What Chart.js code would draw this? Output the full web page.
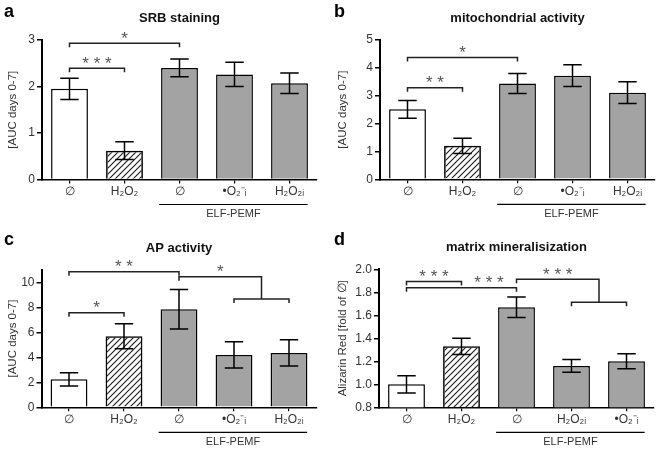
<!DOCTYPE html>
<html>
<head>
<meta charset="utf-8">
<script src="https://cdn.jsdelivr.net/npm/chart.js@4.4.1/dist/chart.umd.min.js"></script>
<style>
  body { margin: 0; background: #fff; }
  #wrap { position: relative; width: 660px; height: 450px; }
  .panel { position: absolute; width: 330px; height: 225px; }
</style>
</head>
<body>
<div id="wrap">
  <div class="panel" style="left:0;top:0"><canvas id="chartA"></canvas></div>
  <div class="panel" style="left:330px;top:0"><canvas id="chartB"></canvas></div>
  <div class="panel" style="left:0;top:225px"><canvas id="chartC"></canvas></div>
  <div class="panel" style="left:330px;top:225px"><canvas id="chartD"></canvas></div>
</div>
<script>
/* ---------- data ---------- */

const groupLabels  = ["∅", "H₂O₂", "∅", "•O₂⁻ᵢ", "H₂O₂ᵢ"];
const groupLabelsD = ["∅", "H₂O₂", "∅", "H₂O₂ᵢ", "•O₂⁻ᵢ"];

const srbMeans  = [1.95, 0.62, 2.40, 2.26, 2.07];
const srbErrors = [0.23, 0.19, 0.19, 0.26, 0.22];

const mitoMeans  = [2.51, 1.20, 3.44, 3.72, 3.11];
const mitoErrors = [0.32, 0.27, 0.36, 0.39, 0.39];

const apMeans  = [2.24, 5.68, 7.84, 4.19, 4.35];
const apErrors = [0.53, 1.00, 1.58, 1.05, 1.05];

const alizarinMeans  = [1.00, 1.33, 1.67, 1.16, 1.20];
const alizarinErrors = [0.075, 0.07, 0.09, 0.055, 0.065];

// significance brackets: category indices, height in axis units
const srbSig  = [{from: 0, to: 1, y: 2.39, text: "* * *"}, {from: 0, to: 2, y: 2.93, text: "*"}];
const mitoSig = [{from: 0, to: 1, y: 3.29, text: "* *"}, {from: 0, to: 2, y: 4.37, text: "*"}];
const apSig   = [{from: 0, to: 1, y: 7.57, text: "*"}, {from: 0, to: 2, y: 10.85, text: "* *"},
                 {from: 2, to: [3, 4], y: 10.45, low: 8.67, text: "*"}];
const alizSig = [{from: 0, to: 1, y: 1.893, text: "* * *"}, {from: 0, to: 2, y: 1.84, text: "* * *", textAt: 1.5},
                 {from: 2, to: [3, 4], y: 1.913, low: 1.713, text: "* * *"}];

/* ---------- defaults ---------- */

const FONT = "'Liberation Sans', Arial, sans-serif";
Chart.defaults.font.family = FONT;
Chart.defaults.font.size = 12;
Chart.defaults.color = "#333";
Chart.defaults.animation = false;
Chart.defaults.plugins.legend.display = false;
Chart.defaults.plugins.tooltip.enabled = false;

function makeHatch() {
  const c = document.createElement("canvas");
  c.width = 6; c.height = 6;
  const g = c.getContext("2d");
  g.strokeStyle = "#1a1a1a";
  g.lineWidth = 1.1;
  g.beginPath();
  g.moveTo(-1, 7); g.lineTo(7, -1);
  g.moveTo(-1, 1); g.lineTo(1, -1);
  g.moveTo(5, 7); g.lineTo(7, 5);
  g.stroke();
  return g.createPattern(c, "repeat");
}

const hatch = makeHatch();
const barFills = ["#ffffff", hatch, "#a3a3a3", "#a3a3a3", "#a3a3a3"];

/* ---------- plugins ---------- */

const errorBars = {
  id: "errorBars",
  afterDatasetsDraw(chart, args, opts) {
    const ctx = chart.ctx, y = chart.scales.y;
    const meta = chart.getDatasetMeta(0);
    const vals = chart.data.datasets[0].data;
    ctx.save();
    ctx.strokeStyle = "#000";
    ctx.lineWidth = 1.5;
    meta.data.forEach((bar, i) => {
      const top = y.getPixelForValue(vals[i] + opts.errors[i]);
      const bot = y.getPixelForValue(vals[i] - opts.errors[i]);
      const half = bar.width * 0.25;
      ctx.beginPath();
      ctx.moveTo(bar.x, top); ctx.lineTo(bar.x, bot);
      ctx.moveTo(bar.x - half, top); ctx.lineTo(bar.x + half, top);
      ctx.moveTo(bar.x - half, bot); ctx.lineTo(bar.x + half, bot);
      ctx.stroke();
    });
    ctx.restore();
  }
};

function stars(ctx, text, x, y) {
  ctx.fillStyle = "#555";
  ctx.font = "17px " + FONT;
  ctx.textAlign = "center";
  ctx.textBaseline = "alphabetic";
  ctx.fillText(text, x, y + 0.5);
}

const decor = {
  id: "decor",
  afterDraw(chart, args, o) {
    const ctx = chart.ctx, x = chart.scales.x, y = chart.scales.y;
    const area = chart.chartArea;
    const drop = 4;
    ctx.save();

    // panel letter and title
    ctx.fillStyle = "#000";
    ctx.font = "bold 18px " + FONT;
    ctx.textAlign = "left";
    ctx.textBaseline = "alphabetic";
    ctx.fillText(o.letter, 4, o.letterY);
    ctx.fillStyle = "#111";
    ctx.font = "bold 13px " + FONT;
    ctx.textAlign = "center";
    ctx.textBaseline = "middle";
    ctx.fillText(o.title, (area.left + area.right) / 2, o.titleY);

    // significance brackets
    ctx.strokeStyle = "#222";
    ctx.lineWidth = 1.5;
    o.brackets.forEach(b => {
      const x1 = x.getPixelForValue(b.from);
      const yy = y.getPixelForValue(b.y);
      if (Array.isArray(b.to)) {
        const a1 = x.getPixelForValue(b.to[0]);
        const a2 = x.getPixelForValue(b.to[1]);
        const mid = (a1 + a2) / 2;
        const yl = y.getPixelForValue(b.low);
        ctx.beginPath();
        ctx.moveTo(x1, yy + drop); ctx.lineTo(x1, yy); ctx.lineTo(mid, yy); ctx.lineTo(mid, yl);
        ctx.moveTo(a1, yl + drop); ctx.lineTo(a1, yl); ctx.lineTo(a2, yl); ctx.lineTo(a2, yl + drop);
        ctx.stroke();
        stars(ctx, b.text, (x1 + mid) / 2, yy);
      } else {
        const x2 = x.getPixelForValue(b.to);
        ctx.beginPath();
        ctx.moveTo(x1, yy + drop); ctx.lineTo(x1, yy); ctx.lineTo(x2, yy); ctx.lineTo(x2, yy + drop);
        ctx.stroke();
        const tx = b.textAt !== undefined ? x.getPixelForValue(b.textAt) : (x1 + x2) / 2;
        stars(ctx, b.text, tx, yy);
      }
    });

    // ELF-PEMF group line
    const gx1 = x.getPixelForValue(1.63), gx2 = x.getPixelForValue(4.33);
    const gy = area.bottom + 25;
    ctx.strokeStyle = "#000";
    ctx.lineWidth = 1.2;
    ctx.beginPath();
    ctx.moveTo(gx1, gy); ctx.lineTo(gx2, gy);
    ctx.stroke();
    ctx.fillStyle = "#333";
    ctx.font = "11px " + FONT;
    ctx.textAlign = "center";
    ctx.textBaseline = "middle";
    ctx.fillText("ELF-PEMF", (gx1 + gx2) / 2, area.bottom + 34.5);
    ctx.restore();
  }
};

/* ---------- panels ---------- */

function drawPanel(id, p) {
  return new Chart(document.getElementById(id), {
    type: "bar",
    data: {
      labels: p.labels,
      datasets: [{
        data: p.means,
        backgroundColor: barFills,
        borderColor: "#000",
        borderWidth: 1.5,
        barPercentage: 0.67,
        categoryPercentage: 1
      }]
    },
    options: {
      responsive: true,
      maintainAspectRatio: false,
      devicePixelRatio: 1,
      layout: { padding: { left: 0, top: p.box.top, right: 330 - p.box.right, bottom: 0 } },
      scales: {
        x: {
          grid: { display: true, drawOnChartArea: false, offset: false, tickLength: 4, color: "#000", lineWidth: 1.2 },
          border: { display: true, color: "#000", width: 1.5 },
          ticks: { padding: 1, font: { size: 12 }, color: "#333", maxRotation: 0 },
          afterFit(s) { s.height = 225 - p.box.bottom; s.paddingLeft = 0; s.paddingRight = 0; }
        },
        y: {
          min: p.yMin,
          max: p.yMax,
          grid: { display: true, drawOnChartArea: false, tickLength: 5, color: "#000", lineWidth: 1.5 },
          border: { display: true, color: "#000", width: 2 },
          ticks: {
            stepSize: p.yStep,
            includeBounds: false,
            padding: 2,
            font: { size: 12 },
            color: "#333",
            callback: v => p.decimals ? Number(v).toFixed(p.decimals) : v
          },
          title: { display: true, text: p.yTitle, color: "#333", font: { size: 11.5 }, padding: { top: 6, bottom: 0 } },
          afterFit(s) { s.width = p.box.left; s.paddingTop = 0; s.paddingBottom = 0; }
        }
      },
      plugins: {
        errorBars: { errors: p.errors },
        decor: {
          letter: p.letter, letterY: p.letterY,
          title: p.title, titleY: p.titleY,
          brackets: p.sig
        }
      }
    },
    plugins: [errorBars, decor]
  });
}

drawPanel("chartA", {
  letter: "a", letterY: 17, title: "SRB staining", titleY: 18,
  yTitle: "[AUC days 0-7]", yMin: 0, yMax: 3, yStep: 1,
  labels: groupLabels, means: srbMeans, errors: srbErrors, sig: srbSig,
  box: { left: 42, right: 317, top: 40, bottom: 179.5 }
});

drawPanel("chartB", {
  letter: "b", letterY: 17, title: "mitochondrial activity", titleY: 18,
  yTitle: "[AUC days 0-7]", yMin: 0, yMax: 5, yStep: 1,
  labels: groupLabels, means: mitoMeans, errors: mitoErrors, sig: mitoSig,
  box: { left: 50, right: 325, top: 40, bottom: 179.3 }
});

drawPanel("chartC", {
  letter: "c", letterY: 19.5, title: "AP activity", titleY: 23,
  yTitle: "[AUC days 0-7]", yMin: 0, yMax: 11, yStep: 2,
  labels: groupLabels, means: apMeans, errors: apErrors, sig: apSig,
  box: { left: 41.5, right: 316.5, top: 44.8, bottom: 182.3 }
});

drawPanel("chartD", {
  letter: "d", letterY: 19.5, title: "matrix mineralisization", titleY: 22.7,
  yTitle: "Alizarin Red [fold of ∅]", yMin: 0.8, yMax: 2.0, yStep: 0.2, decimals: 1,
  labels: groupLabelsD, means: alizarinMeans, errors: alizarinErrors, sig: alizSig,
  box: { left: 49, right: 324, top: 44.3, bottom: 182.3 }
});
</script>
</body>
</html>
